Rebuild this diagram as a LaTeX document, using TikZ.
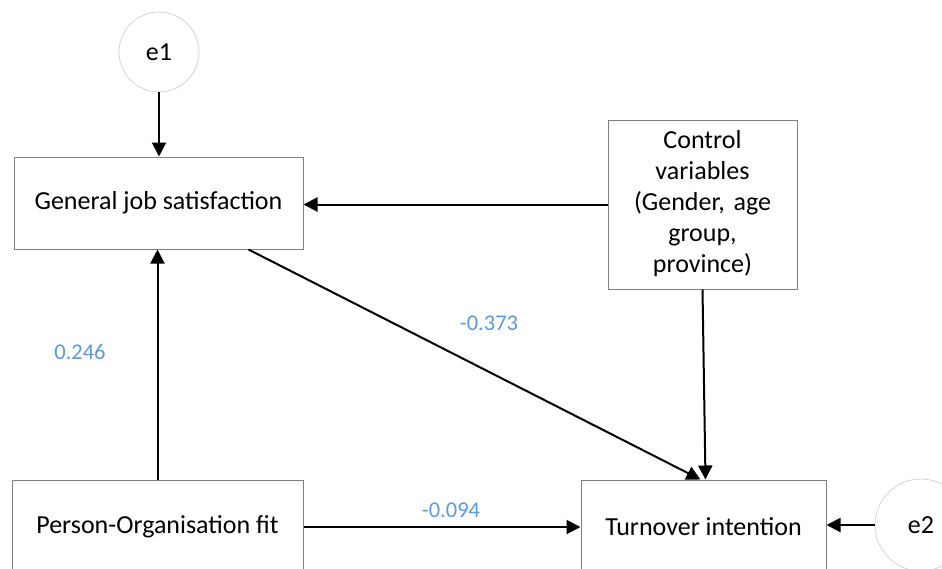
\documentclass[tikz,border=0pt]{standalone}
\usepackage{fontspec}
\setmainfont{Carlito}
\usetikzlibrary{arrows.meta}
\definecolor{lblue}{HTML}{5B9BD5}
\definecolor{boxgray}{HTML}{808080}
\definecolor{circgray}{HTML}{D4D4D4}
\frenchspacing
\begin{document}
\begin{tikzpicture}[x=1pt,y=-1pt,
  varbox/.style={draw=boxgray,line width=1pt,fill=white,inner sep=0pt},
  errc/.style={draw=circgray,line width=0.8pt,circle,minimum size=80pt,inner sep=0pt,font=\fontsize{26}{31}\selectfont},
  txt/.style={font=\fontsize{26}{31}\selectfont,align=center},
  coef/.style={font=\fontsize{22.5}{27}\selectfont,text=lblue},
  path/.style={line width=2pt,-{Triangle[length=14pt,width=14pt]}}]
\useasboundingbox (0,0) rectangle (942,568);
\clip (0,0) rectangle (942,568);
% boxes
\node[varbox,minimum width=289pt,minimum height=92pt] (gjs) at (158.5,203) {};
\node[txt] at (gjs.center) {General job satisfaction};
\node[varbox,minimum width=189pt,minimum height=169pt] (ctrl) at (702.5,204.5) {};
\node[txt,text width=180pt] at ([yshift=1pt]ctrl.center) {Control\\variables\\(Gender, age\\group,\\province)};
\node[varbox,minimum width=291pt,minimum height=94pt] (pof) at (157.5,527) {};
\node[txt] at (pof.center) {Person-Organisation fit};
\node[varbox,minimum width=245pt,minimum height=94pt] (ti) at (703.5,527) {};
\node[txt] at (ti.center) {Turnover intention};
\node[errc] (e1) at (159,52) {e1};
\node[errc,minimum size=92pt] (e2) at (921,525) {e2};
% paths
\draw[path] (e1.south) -- (gjs.north -| e1.south);
\draw[path] (ctrl.west) -- (ctrl.west -| gjs.east);
\draw[path] (pof.north) -- (gjs.south -| pof.north);
\draw[path] (ctrl.south) -- ([xshift=2pt]ti.north);
\draw[path] ([xshift=90pt]gjs.south) -- ([xshift=-3pt]ti.north);
\draw[path] (pof.east) -- (ti.west);
\draw[path] (e2.west) -- (e2.west -| ti.east);
% coefficients
\node[coef] (c1) at (80,352) {0.246};
\node[coef] (c2) at (489,323) {-0.373};
\node[coef] (c3) at (451,510) {-0.094};
\end{tikzpicture}
\end{document}
